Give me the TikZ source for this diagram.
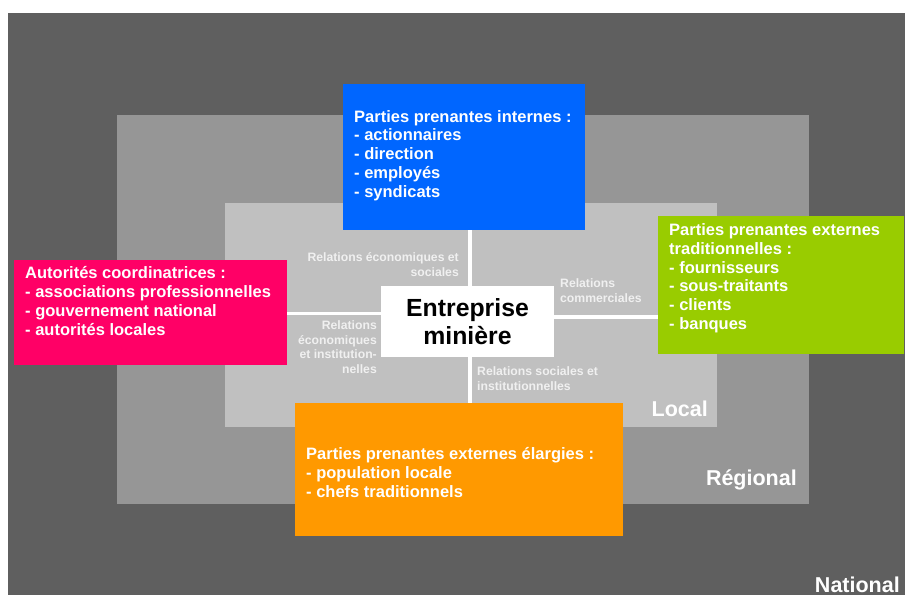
\documentclass[tikz,border=0pt]{standalone}
\usepackage{fontspec}
\setmainfont{Liberation Sans}
\usepackage{tikz}
\usetikzlibrary{positioning}
\usepackage{xcolor}
\definecolor{natgray}{RGB}{95,95,95}
\definecolor{reggray}{RGB}{150,150,150}
\definecolor{locgray}{RGB}{192,192,192}
\definecolor{ppblue}{RGB}{0,102,255}
\definecolor{ppgreen}{RGB}{153,204,0}
\definecolor{pppink}{RGB}{255,0,102}
\definecolor{pporange}{RGB}{255,153,0}
\definecolor{relwhite}{RGB}{240,240,240}
\tikzstyle{box} = [inner sep=0pt, anchor=north west]
\tikzstyle{boxtext} = [anchor=base west, inner sep=0pt, align=left, text=white, font=\fontsize{16.5bp}{18.8bp}\selectfont\bfseries]
\tikzstyle{reltext} = [inner sep=0pt, text=relwhite, font=\fontsize{12.2bp}{14.5bp}\selectfont\bfseries]
\tikzstyle{zonelabel} = [anchor=base east, inner sep=0pt, text=white, font=\fontsize{21.5bp}{25bp}\selectfont\bfseries]
\tikzstyle{link} = [line width=3.5bp, white]

\begin{document}
\begin{tikzpicture}[x=1bp, y=-1bp]
\useasboundingbox (0,0) rectangle (905,595);

% Zones
\fill[natgray] (8,13) rectangle (905,595);
\fill[reggray] (117,115) rectangle (809,504);
\fill[locgray] (225,203) rectangle (717,427);

\node[zonelabel] (loc) at (708,416) {Local};
\node[zonelabel] (reg) at (797,485) {Régional};
\node[zonelabel] (nat) at (900,592) {National};

% Stakeholders (text nodes sit on the baseline of their last line)
\node[box, fill=ppblue, minimum width=242bp, minimum height=146bp] (int) at (343,84) {};
\node[boxtext] (inttxt) at (354,197.3) {Parties prenantes internes :\\- actionnaires\\- direction\\- employés\\- syndicats};

\node[box, fill=ppgreen, minimum width=246bp, minimum height=138bp] (ext) at (658,216) {};
\node[boxtext] (exttxt) at (669,329.5) {Parties prenantes externes\\traditionnelles :\\- fournisseurs\\- sous-traitants\\- clients\\- banques};

\node[box, fill=pppink, minimum width=273bp, minimum height=105bp] (aut) at (14,260) {};
\node[boxtext] (auttxt) at (25,335.2) {Autorités coordinatrices :\\- associations professionnelles\\- gouvernement national\\- autorités locales};

\node[box, fill=pporange, minimum width=328bp, minimum height=133bp] (elarg) at (295,403) {};
\node[boxtext] (elargtxt) at (306,497.5) {Parties prenantes externes élargies :\\- population locale\\- chefs traditionnels};

% Centre
\node[fill=white, inner sep=0pt, minimum width=173bp, minimum height=71bp, align=center,
      font=\fontsize{24.8bp}{27.8bp}\selectfont\bfseries] (ent) at (467.5,321.5) {Entreprise\\minière};

% Relations
\coordinate (vx) at (470,0);
\coordinate (ly) at (0,313.5);
\coordinate (ry) at (0,317);
\draw[link] (int.south -| vx) -- (ent.north -| vx);
\draw[link] (ent.south -| vx) -- (elarg.north -| vx);
\draw[link] (aut.east |- ly) -- (ent.west |- ly);
\draw[link] (ent.east |- ry) -- (ext.west |- ry);

\node[reltext, anchor=base east, align=right] (relsoc) at (459,276) {Relations économiques et\\sociales};
\node[reltext, anchor=base west, align=left] (relcom) at (560,302) {Relations\\commerciales};
\node[reltext, anchor=base east, align=right] (relinst) at (377,373) {Relations\\économiques\\et institution-\\nelles};
\node[reltext, anchor=base west, align=left] (relsi) at (477,390) {Relations sociales et\\institutionnelles};
\end{tikzpicture}
\end{document}
